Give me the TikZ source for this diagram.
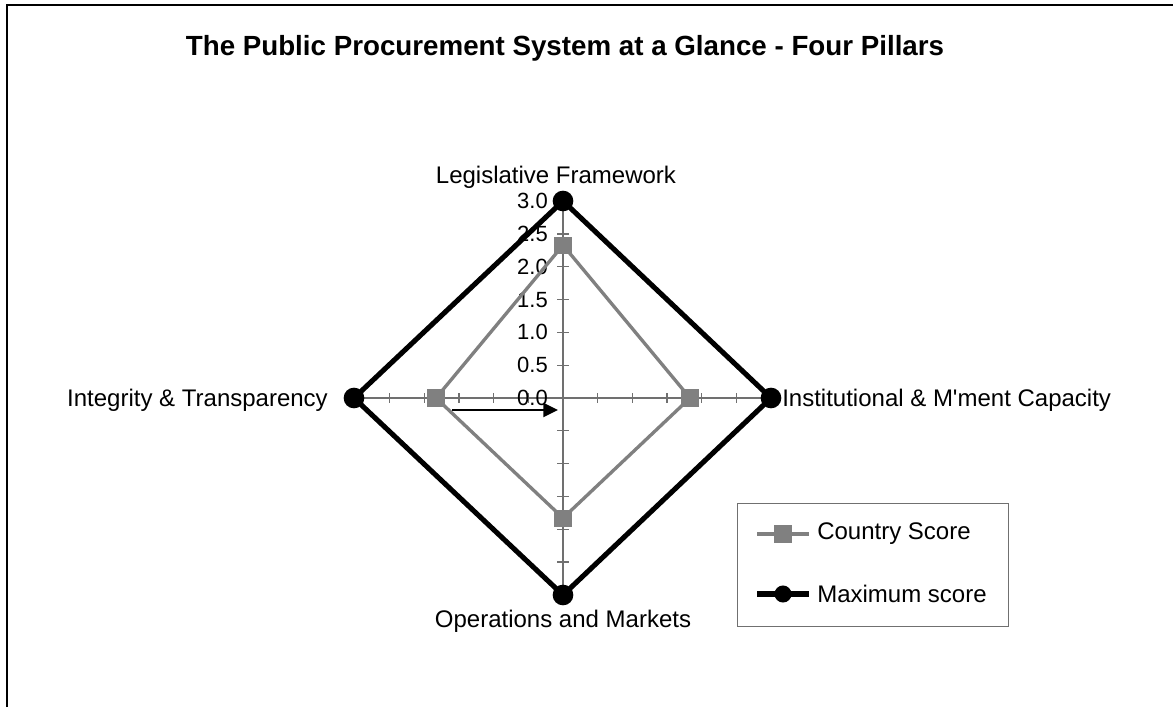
\documentclass[tikz,border=0pt]{standalone}
\usepackage{fontspec}
\setmainfont{Liberation Sans}
\usetikzlibrary{arrows.meta}
\definecolor{scoregray}{HTML}{808080}
\definecolor{axisgray}{HTML}{707070}
\tikzset{axis/.style={draw=axisgray,line width=1}}
\tikzset{maxline/.style={draw=black,line width=3.8,line join=miter}}
\tikzset{scoreline/.style={draw=scoregray,line width=2.5}}
\tikzset{maxdot/.style={circle,fill=black,inner sep=0pt,minimum size=15.5}}
\tikzset{scorebox/.style={rectangle,fill=scoregray,inner sep=0pt,minimum size=12.8}}
\tikzset{pillar/.style={font=\fontsize{18}{21}\selectfont,inner sep=0pt}}
\tikzset{ticklabel/.style={font=\fontsize{16.5}{19}\selectfont,inner sep=0pt,anchor=east}}

\begin{document}
\begin{tikzpicture}[x=0.75pt,y=-0.75pt]
    \useasboundingbox (0,0) rectangle (1173,707);
    \draw[line width=1.2] (7,707) -- (7,5) -- (1173,5);
    % Title
    \node[font=\bfseries\fontsize{20.8}{24}\selectfont] (title) at (565,48)
          {The Public Procurement System at a Glance - Four Pillars};
    % centre and axes
    \coordinate (o) at (563,398);
    \coordinate (top) at (563,201);
    \coordinate (bot) at (563,595);
    \coordinate (lft) at (354,398);
    \coordinate (rgt) at (771,398);
    \draw[axis] (lft) -- (rgt);
    \draw[axis] (top) -- (bot);
    \foreach \k in {1,...,6}{%
          \draw[axis] ({563+\k*34.7},393) -- ++(0,10);
          \draw[axis] ({563-\k*34.7},393) -- ++(0,10);
          \draw[axis] (557,{398+\k*32.8}) -- ++(12,0);
          \draw[axis] (557,{398-\k*32.8}) -- ++(12,0);
        }
    \foreach \h [count=\hi from 0] in {0.0,0.5,1.0,1.5,2.0,2.5,3.0}{%
          \node[ticklabel] (t\hi) at (548,{398-\hi*32.8}) {\h};
        }
    % Maximum score
    \draw[maxline] (top) -- (rgt) -- (bot) -- (lft) -- cycle;
    % Country score
    \coordinate (c1) at (563,{398-2.33*65.6});
    \coordinate (c2) at ({563+1.83*69.4},398);
    \coordinate (c3) at (563,{398+1.83*65.6});
    \coordinate (c4) at ({563-1.83*69.4},398);
    \draw[scoreline] (c1) -- (c2) -- (c3) -- (c4) -- cycle;
    \foreach \p in {c1,c2,c3,c4}{%
          \node[scorebox] at (\p) {};
        }
    \foreach \p [count=\pi] in {top,rgt,bot,lft}{%
          \node[maxdot] (m\pi) at (\p) {};
        }
    % arrow
    \coordinate (a0) at (452,410);
    \coordinate (a1) at (558,410);
    \draw[line width=1.7,-{Triangle[length=11,width=10.5]}] (a0) -- (a1);
    % Labels
    \node[pillar,anchor=base] (legis) at (556,183) {Legislative Framework};
    \node[pillar,anchor=base east] (integ) at (328,406) {Integrity \& Transparency};
    \node[pillar,anchor=base west] (instit) at (782,406) {Institutional \& M\textquotesingle ment Capacity};
    \node[pillar,anchor=base] (oper) at (563,627) {Operations and Markets};
    % Legend
    \node[draw=axisgray,line width=1,minimum width=203,minimum height=92,
          anchor=north west] (legend) at (737,503) {};
    \coordinate (l1) at (757,534);
    \coordinate (l2) at (757,594);
    \coordinate (l1e) at (809,534);
    \coordinate (l2e) at (809,594);
    \draw[scoreline,line width=3] (l1) -- (l1e);
    \node[scorebox] at (783,534) {};
    \draw[maxline,line width=4.5] (l2) -- (l2e);
    \node[maxdot,minimum size=12.8] at (783,594) {};
    \node[pillar,anchor=west] (lg1) at (817,534) {Country Score};
    \node[pillar,anchor=west] (lg2) at (817,594) {Maximum score};
\end{tikzpicture}
\end{document}
